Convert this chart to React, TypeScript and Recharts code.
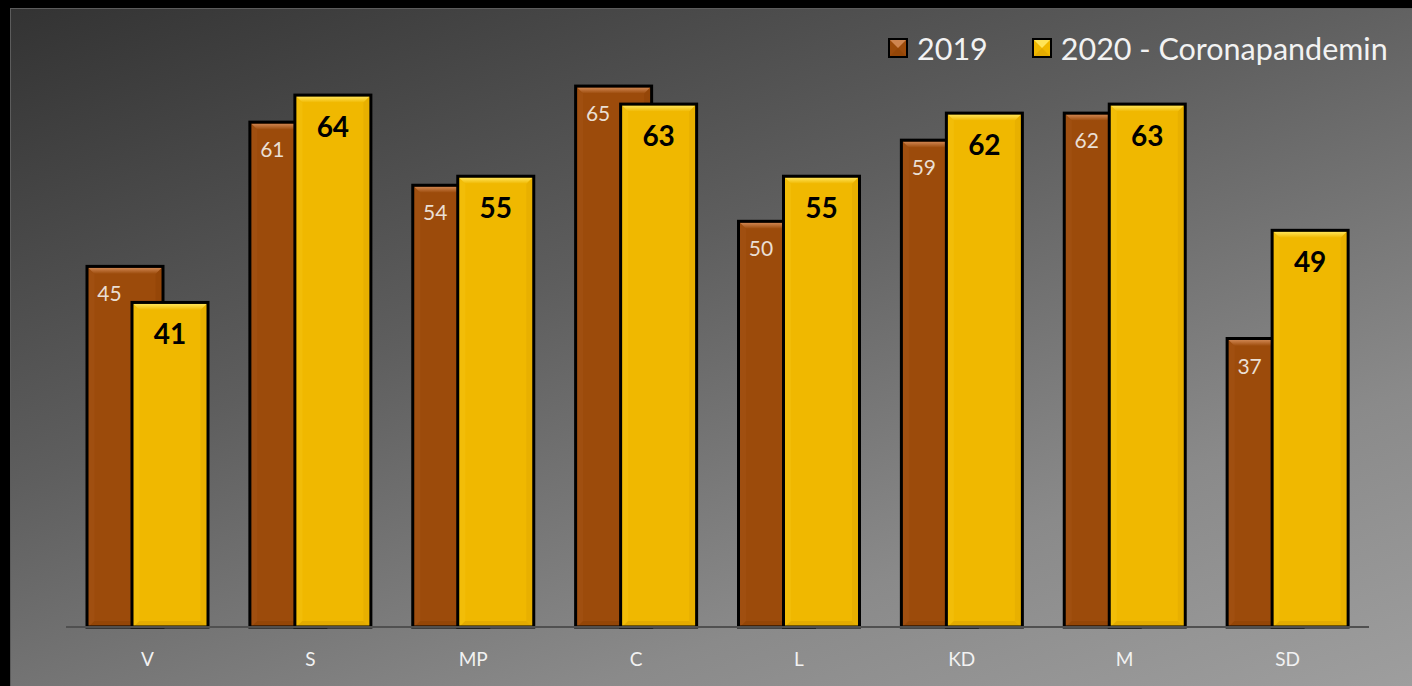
import React from 'react';
import { BarChart, Bar, XAxis, YAxis, Legend, LabelList } from 'recharts';

const parties = ['V', 'S', 'MP', 'C', 'L', 'KD', 'M', 'SD'];
const values2019 = [45, 61, 54, 65, 50, 59, 62, 37];
const values2020 = [41, 64, 55, 63, 55, 62, 63, 49];
const seriesNames = ['2019', '2020 - Coronapandemin'];

const data = parties.map((p, i) => ({ party: p, y2019: values2019[i], y2020: values2020[i] }));

const FONT = 'Lato, "Open Sans", sans-serif';
const BAR_SIZE = 76;
const BAR_GAP = -31;

const palette = {
  brown: { main: '#9c4b0b', top: '#cf8550', left: '#a04f10', right: '#954608', bottom: '#944607' },
  gold: { main: '#f0b800', top: '#ffe458', left: '#f2bd08', right: '#e8b000', bottom: '#e3ab00' },
};

function bevelBar(colors: typeof palette.brown, id: string) {
  return (props: any) => {
    const { x, y, width, height, index } = props;
    if (!height || height <= 0) return <g />;
    const b = 6;
    const s = 1.5;
    const x1 = x + s;
    const x2 = x + width - s;
    const y1 = y + s;
    const y2 = y + height;
    const gid = `${id}-${index}`;
    return (
      <g>
        <defs>
          <linearGradient id={gid} x1="0" y1="0" x2="0" y2="1">
            <stop offset="0%" stopColor={colors.top} />
            <stop offset="100%" stopColor={colors.main} />
          </linearGradient>
        </defs>
        <rect x={x} y={y} width={width} height={height} fill={colors.main} />
        <polygon points={`${x1},${y1} ${x1 + b},${y1 + b} ${x1 + b},${y2 - b} ${x1},${y2}`} fill={colors.left} />
        <polygon points={`${x2},${y1} ${x2 - b},${y1 + b} ${x2 - b},${y2 - b} ${x2},${y2}`} fill={colors.right} />
        <polygon points={`${x1},${y2} ${x1 + b},${y2 - b} ${x2 - b},${y2 - b} ${x2},${y2}`} fill={colors.bottom} />
        <polygon points={`${x1},${y1} ${x2},${y1} ${x2 - b},${y1 + b} ${x1 + b},${y1 + b}`} fill={`url(#${gid})`} />
        <rect x={x} y={y} width={width} height={height} fill="none" stroke="#000" strokeWidth={3} />
      </g>
    );
  };
}

const label2019 = (props: any) => {
  const { x, y, value } = props;
  const visible = BAR_SIZE + BAR_GAP;
  return (
    <text x={x + visible / 2} y={y + 35} textAnchor="middle" fill="#eadfd4" fontSize={21} fontFamily={FONT}>
      {value}
    </text>
  );
};

const label2020 = (props: any) => {
  const { x, y, width, value } = props;
  return (
    <text x={x + width / 2} y={y + 42} textAnchor="middle" fill="#000" fontSize={28} fontWeight={700} fontFamily={FONT}>
      {value}
    </text>
  );
};

const LegendSquare = ({ colors }: { colors: typeof palette.brown }) => (
  <svg width={20} height={20} style={{ display: 'block' }}>
    <rect x={1} y={1} width={18} height={18} fill={colors.main} stroke="#000" strokeWidth={2} />
    <polygon points="2,2 18,2 10,10" fill={colors.top} />
    <polygon points="2,18 18,18 10,10" fill={colors.bottom} />
  </svg>
);

const renderLegend = (props: any) => {
  const { payload } = props;
  return (
    <div style={{ display: 'flex', alignItems: 'center', fontFamily: FONT, fontSize: 30.5, color: '#f2f2f2' }}>
      {(payload || []).map((entry: any, i: number) => (
        <div key={i} style={{ display: 'flex', alignItems: 'center', marginRight: i === 0 ? 44 : 0 }}>
          <LegendSquare colors={i === 0 ? palette.brown : palette.gold} />
          <span style={{ marginLeft: 9 }}>{entry.value}</span>
        </div>
      ))}
    </div>
  );
};

export default function App() {
  return (
    <div style={{ position: 'absolute', left: 0, top: 0, width: 1412, height: 686, background: '#000', overflow: 'hidden' }}>
      <div
        style={{
          position: 'absolute',
          left: 10,
          top: 8,
          width: 1402,
          height: 678,
          boxSizing: 'border-box',
          borderTop: '1px solid #5c5c5c',
          borderLeft: '1px solid #5c5c5c',
          background: 'linear-gradient(160deg, #333333 0%, #5e5e5e 40%, #8a8a8a 75%, #9e9e9e 100%)',
        }}
      >
        <BarChart
          width={1401}
          height={677}
          data={data}
          margin={{ top: 32, right: 43, left: 55, bottom: 0 }}
          barSize={BAR_SIZE}
          barGap={BAR_GAP}
        >
          <XAxis
            dataKey="party"
            height={59}
            tickLine={false}
            tickSize={0}
            tickMargin={26}
            axisLine={{ stroke: '#505050', strokeWidth: 2 }}
            tick={{ fill: '#f2f2f2', fontSize: 19, fontFamily: FONT }}
          />
          <YAxis hide domain={[5, 70]} />
          <Legend
            layout="horizontal"
            align="center"
            verticalAlign="middle"
            content={renderLegend}
            wrapperStyle={{ top: 21, left: 877, width: 525 }}
          />
          <Bar dataKey="y2019" name={seriesNames[0]} fill={palette.brown.main} shape={bevelBar(palette.brown, 'g19')} isAnimationActive={false}>
            <LabelList dataKey="y2019" content={label2019} />
          </Bar>
          <Bar dataKey="y2020" name={seriesNames[1]} fill={palette.gold.main} shape={bevelBar(palette.gold, 'g20')} isAnimationActive={false}>
            <LabelList dataKey="y2020" content={label2020} />
          </Bar>
        </BarChart>
      </div>
    </div>
  );
}
